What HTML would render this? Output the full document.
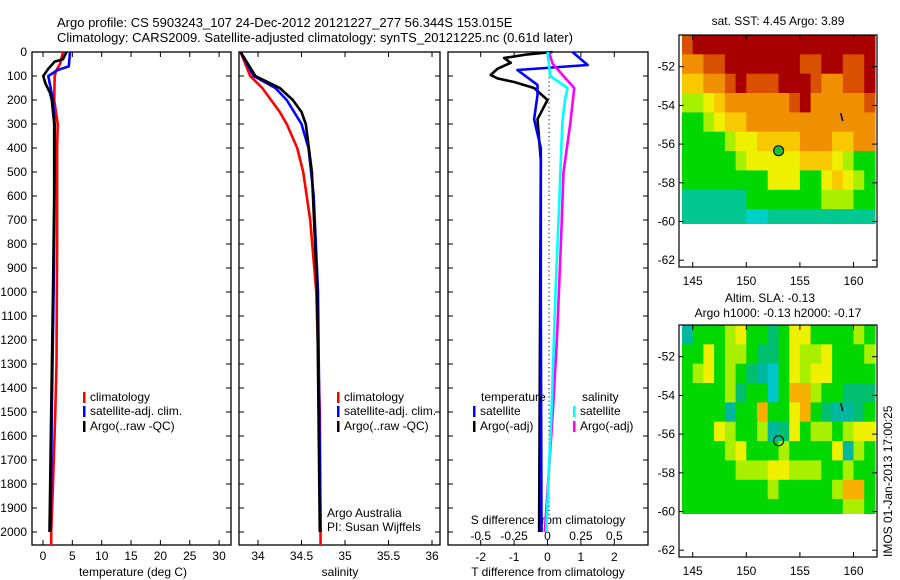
<!DOCTYPE html>
<html><head><meta charset="utf-8">
<style>
body{margin:0;background:#fff;}
svg{display:block;font-family:"Liberation Sans",sans-serif;}
text{font-size:12px;fill:#000;}
</style></head>
<body>
<svg id="chart" width="900" height="580" viewBox="0 0 900 580">
<text x="57" y="27" style="font-size:13px">Argo profile: CS 5903243_107 24-Dec-2012 20121227_277 56.344S 153.015E</text>
<text x="57" y="42" style="font-size:13px">Climatology: CARS2009. Satellite-adjusted climatology: synTS_20121225.nc (0.61d later)</text>
</svg>
<script>
// ---------- data ----------
const depthTicks=[0,100,200,300,400,500,600,700,800,900,1000,1100,1200,1300,1400,1500,1600,1700,1800,1900,2000];
const tempTicks=[0,5,10,15,20,25,30];
const salTicks=[34,34.5,35,35.5,36];
const salTickLabels=["34","34.5","35","35.5","36"];
const tdiffTicks=[-2,-1,0,1,2];
const sdiffTicks=[-0.5,-0.25,0,0.25,0.5];
const sdiffTickLabels=["-0.5","-0.25","0","0.25","0.5"];

const climTDepth=[0,50,80,100,200,300,400,800,1300,1500,1800,2000,2055];
const climT=[3.4,2.9,2.2,2.0,1.9,2.5,2.4,2.4,2.3,2.1,1.7,1.4,1.4];
const satTDepth=[0,60,75,100,200,300,500,1000,1500,2000];
const satT=[4.6,4.4,2.5,0.9,1.7,2.0,2.0,1.8,1.5,1.3];
const argoTDepth=[0,20,30,40,70,100,130,170,200,300,600,1000,1500,2000];
const argoT=[4.0,3.6,3.4,2.0,0.9,0.05,0.4,1.2,1.5,1.9,1.9,1.7,1.4,1.1];

const climSDepth=[0,100,150,200,250,300,400,500,700,1000,1500,2055];
const climS=[33.8,33.91,34.05,34.15,34.25,34.33,34.45,34.52,34.6,34.67,34.71,34.72];
const satSDepth=[0,100,150,200,300,400,600,1000,2000];
const satS=[33.8,33.95,34.2,34.33,34.5,34.58,34.64,34.69,34.72];
const argoSDepth=[0,100,150,200,250,300,500,1000,2000];
const argoS=[33.8,33.97,34.25,34.4,34.5,34.55,34.62,34.68,34.71];

const tDiffSatDepth=[0,54,75,137,180,280,400,1000,2000];
const tDiffSat=[0.75,1.2,-0.9,-0.3,-0.3,-0.4,-0.2,-0.2,-0.18];
const tDiffArgoDepth=[0,10,25,45,70,96,110,125,150,200,280,450,1000,2000];
const tDiffArgo=[0.15,-0.6,-1.3,-1.1,-1.5,-1.7,-1.5,-1.0,-0.4,0,-0.3,-0.2,-0.22,-0.25];
const sDiffSatDepth=[0,100,150,200,300,600,1000,1500,2000];
const sDiffSat=[0.0,0.02,0.15,0.13,0.11,0.09,0.06,0.03,-0.01];
const sDiffArgoDepth=[0,50,150,200,300,500,800,1200,1500,2000];
const sDiffArgo=[0.01,0.04,0.2,0.19,0.17,0.12,0.1,0.07,0.04,-0.02];

const lonTicks=[145,150,155,160];
const latTicks=[-52,-54,-56,-58,-60,-62];
const sstRows=["788888888888888888","667788888887788778","556678777888766778","334566666678666667","223455666666666666","222234455556665566","222223444445554322","222222224442245432","111111222222233322","111111001111111111"];
const slaRows=["133345332355333343","335344322354453334","345343210354553333","333342330366433222","333313363356321123","333543341253443455","333345333433335143","333334445544433433","333333334333334663","333333333333333443"];
const sstColors=["#00d0c8","#00c890","#00d800","#a8f000","#eef000","#f8c800","#f09000","#d85000","#a80000"];
const slaColors=["#00c8c8","#00b8a0","#00c070","#00d800","#a8f000","#eef000","#f8b000"];
const argoLon=153.015, argoLat=-56.344;

// ---------- helpers ----------
const NS="http://www.w3.org/2000/svg";
const svg=document.getElementById('chart');
function mk(tag,attrs,parent){const e=document.createElementNS(NS,tag);for(const k in attrs)e.setAttribute(k,attrs[k]);(parent||svg).appendChild(e);return e;}
const Y0=52,Y1=545;
const yD=d=>Y0+d*0.24;

function panel(x0,x1,name){
  const g=mk('g',{});
  
  
  const r=mk('rect',{x:x0,y:Y0,width:x1-x0,height:Y1-Y0,fill:'none',stroke:'#000','stroke-width':1.3},g);
  
  
  depthTicks.forEach(d=>{
    mk('line',{x1:x0,x2:x0+5,y1:yD(d),y2:yD(d),stroke:'#000'},g);
    mk('line',{x1:x1-5,x2:x1,y1:yD(d),y2:yD(d),stroke:'#000'},g);
  });
  return g;
}
function xTicks(g,vals,labels,fx,yLab,top,bottom){
  vals.forEach((v,i)=>{
    const x=fx(v);
    if(top)mk('line',{x1:x,x2:x,y1:Y0,y2:Y0+5,stroke:'#000'},g);
    if(bottom)mk('line',{x1:x,x2:x,y1:Y1-5,y2:Y1,stroke:'#000'},g);
    if(yLab){const t=mk('text',{x:x,y:yLab,'text-anchor':'middle'},g);t.textContent=labels[i];
      
      }
  });
}
function line(g,depths,vals,fx,color,name,w){
  const pts=depths.map((d,i)=>fx(vals[i]).toFixed(1)+','+yD(d).toFixed(1)).join(' ');
  const p=mk('polyline',{points:pts,fill:'none',stroke:color,'stroke-width':w||2.6,'stroke-linejoin':'round'},g);
  
  
}
function legend(g,x,y,color,label,name){
  mk('rect',{x:x,y:y-9,width:2.5,height:11,fill:color},g);
  const t=mk('text',{x:x+7,y:y},g);t.textContent=label;
  
  
}
function label(g,x,y,s,name,anchor){
  const t=mk('text',{x:x,y:y,'text-anchor':anchor||'middle'},g);t.textContent=s;
  
  
}

// ---------- panel 1 ----------
const fT=v=>43+v*5.87;
const g1=panel(32,231,'temperature-panel');
depthTicks.forEach(d=>label(g1,27,yD(d)+4,String(d),'y-tick-label','end'));
xTicks(g1,tempTicks,tempTicks.map(String),fT,560,true,true);
label(g1,133,576,'temperature (deg C)','x-axis-title-temperature');
line(g1,climTDepth,climT,fT,'#ff0000','climatology-temperature-line');
line(g1,satTDepth,satT,fT,'#0000ff','satellite-temperature-line');
line(g1,argoTDepth,argoT,fT,'#000000','argo-temperature-line');
legend(g1,83,401,'#ff0000','climatology','legend-climatology');
legend(g1,83,415,'#0000ff','satellite-adj. clim.','legend-satellite');
legend(g1,83,430,'#000000','Argo(..raw -QC)','legend-argo');

// ---------- panel 2 ----------
const fS=v=>258+(v-34)*87;
const g2=panel(239,440,'salinity-panel');
xTicks(g2,salTicks,salTickLabels,fS,560,true,true);
label(g2,340,576,'salinity','x-axis-title-salinity');
line(g2,climSDepth,climS,fS,'#ff0000','climatology-salinity-line');
line(g2,satSDepth,satS,fS,'#0000ff','satellite-salinity-line');
line(g2,argoSDepth,argoS,fS,'#000000','argo-salinity-line');
legend(g2,337,401,'#ff0000','climatology','legend-climatology-s');
legend(g2,337,415,'#0000ff','satellite-adj. clim.','legend-satellite-s');
legend(g2,337,430,'#000000','Argo(..raw -QC)','legend-argo-s');
label(g2,327,517,'Argo Australia','credit-line-1','start');
label(g2,327,531,'PI: Susan Wijffels','credit-line-2','start');

// ---------- panel 3 ----------
const fdT=v=>547.5+v*33.4;
const fdS=v=>547.5+v*133.6;
const g3=panel(448,648,'difference-panel');
xTicks(g3,tdiffTicks,tdiffTicks.map(String),fdT,561,true,true);
label(g3,548,576,'T difference from climatology','x-axis-title-tdiff');
label(g3,548,524,'S difference from climatology','s-axis-title');
sdiffTicks.forEach((v,i)=>label(g3,fdS(v),540,sdiffTickLabels[i],'s-tick-label'));
mk('line',{x1:549,x2:549,y1:Y0,y2:Y1-30,stroke:'#000','stroke-dasharray':'1.2,3'},g3);
line(g3,tDiffArgoDepth,tDiffArgo,fdT,'#000000','argo-tdiff-line');
line(g3,tDiffSatDepth,tDiffSat,fdT,'#0000ff','satellite-tdiff-line');
line(g3,sDiffArgoDepth,sDiffArgo,fdS,'#ff00ff','argo-sdiff-line');
line(g3,sDiffSatDepth,sDiffSat,fdS,'#00ffff','satellite-sdiff-line');
label(g3,481,401,'temperature','legend-temperature-header','start');
label(g3,582,401,'salinity','legend-salinity-header','start');
legend(g3,473,415,'#0000ff','satellite','legend-t-satellite');
legend(g3,473,430,'#000000','Argo(-adj)','legend-t-argo');
legend(g3,573,415,'#00ffff','satellite','legend-s-satellite');
legend(g3,573,430,'#ff00ff','Argo(-adj)','legend-s-argo');

// ---------- maps ----------
function map(top,rows,colors,name,filled){
  const fx=lon=>692.7+(lon-145)*10.72;
  const fy=lat=>top+31.7+(-52-lat)*19.35;
  const g=mk('g',{});
  
  
  rows.forEach((row,r)=>{
    for(let c=0;c<row.length;c++){
      const lat0=-50.36-r, lat1=Math.max(-60.1,lat0-1);
      const x=fx(144+c), y=fy(lat0);
      const cell=mk('rect',{x:x.toFixed(1),y:y.toFixed(1),width:(fx(145+c)-x+0.6).toFixed(1),height:(fy(lat1)-y+0.6).toFixed(1),fill:colors[+row[c]]},g);
      
      
    }
  });
  const fr=mk('rect',{x:679,y:top,width:198,height:232,fill:'none',stroke:'#000','stroke-width':1.2},g);
  
  
  lonTicks.forEach(v=>{const x=fx(v);
    mk('line',{x1:x,x2:x,y1:top,y2:top+5,stroke:'#000'},g);
    mk('line',{x1:x,x2:x,y1:top+227,y2:top+232,stroke:'#000'},g);
    label(g,x,top+250,String(v),'lon-tick-label');});
  latTicks.forEach(v=>{const y=fy(v);
    mk('line',{x1:679,x2:684,y1:y,y2:y,stroke:'#000'},g);
    mk('line',{x1:872,x2:877,y1:y,y2:y,stroke:'#000'},g);
    label(g,675,y+4,String(v),'lat-tick-label','end');});
  const cx=fx(argoLon), cy=fy(argoLat);
  const c=mk('circle',{cx:cx,cy:cy,r:5,fill:filled?'#20c030':'none',stroke:'#000','stroke-width':1.1},g);
  
  
  mk('line',{x1:fx(158.9)-1,x2:fx(158.9)+1,y1:fy(-54.4),y2:fy(-54.8),stroke:'#000','stroke-width':1.5},g);
  return g;
}
const m1=map(35,sstRows,sstColors,'sst-map',true);
label(m1,778,25,'sat. SST: 4.45 Argo: 3.89','sst-map-title');
const m2=map(325,slaRows,slaColors,'sla-map',false);
label(m2,770,302,'Altim. SLA: -0.13','sla-map-title');
label(m2,778,317,'Argo h1000: -0.13 h2000: -0.17','sla-map-subtitle');
const v=mk('text',{x:0,y:0,transform:'translate(892,557) rotate(-90)'});
v.textContent='IMOS 01-Jan-2013 17:00:25';


</script>
</body></html>
